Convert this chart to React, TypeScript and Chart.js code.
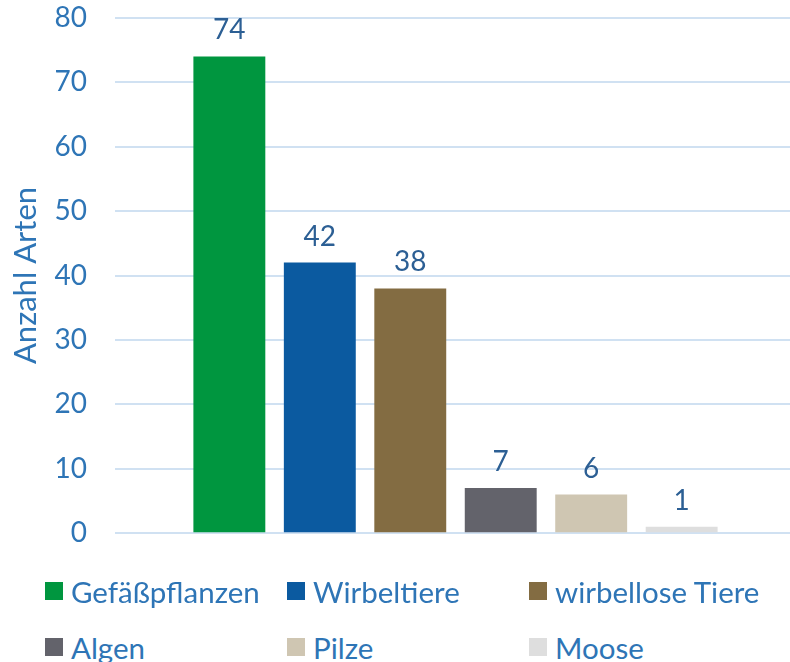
import React, { useEffect, useRef } from "react";
import { Chart, registerables } from "chart.js";

Chart.register(...registerables);

const categories = ["Gefäßpflanzen", "Wirbeltiere", "wirbellose Tiere", "Algen", "Pilze", "Moose"];
const counts = [74, 42, 38, 7, 6, 1];
const colors = ["#00963F", "#0B5AA0", "#836C42", "#63636B", "#CFC6B2", "#DEDEDE"];
const yTicks = [0, 10, 20, 30, 40, 50, 60, 70, 80];
const axisTitle = "Anzahl Arten";

const FONT = "Lato, 'Open Sans', sans-serif";
const TICK_COLOR = "#2E75B6";
const LABEL_COLOR = "#2C5F94";

const valueLabels = {
  id: "valueLabels",
  afterDatasetsDraw(chart: any) {
    const ctx = chart.ctx;
    ctx.save();
    ctx.font = `28px ${FONT}`;
    ctx.fillStyle = LABEL_COLOR;
    ctx.textAlign = "center";
    ctx.textBaseline = "bottom";
    chart.data.datasets.forEach((ds: any, i: number) => {
      const meta = chart.getDatasetMeta(i);
      meta.data.forEach((bar: any, j: number) => {
        ctx.fillText(String(ds.data[j]), bar.x, bar.y - 12);
      });
    });
    ctx.restore();
  },
};

export default function App() {
  const canvasRef = useRef<HTMLCanvasElement | null>(null);

  useEffect(() => {
    document.body.style.margin = "0";
    const chart = new Chart(canvasRef.current!, {
      type: "bar",
      data: {
        labels: [""],
        datasets: categories.map((c, i) => ({
          label: c,
          data: [counts[i]],
          backgroundColor: colors[i],
          borderWidth: 0,
        })),
      },
      options: {
        animation: false,
        responsive: false,
        maintainAspectRatio: false,
        layout: { padding: { top: 17, bottom: 27, left: 0, right: 0 } },
        datasets: {
          bar: { categoryPercentage: 0.797, barPercentage: 0.795 },
        },
        plugins: {
          legend: { display: false },
          tooltip: { enabled: false },
        },
        scales: {
          x: { display: false },
          y: {
            min: 0,
            max: 80,
            afterBuildTicks: (scale: any) => {
              scale.ticks = yTicks.map((v) => ({ value: v }));
            },
            afterFit: (scale: any) => {
              scale.width = 115;
            },
            border: { display: false },
            grid: { color: "#D0E1F2", lineWidth: 2, drawTicks: false },
            ticks: {
              color: TICK_COLOR,
              font: { family: FONT, size: 28 },
              padding: 28,
            },
            title: {
              display: true,
              text: axisTitle,
              color: TICK_COLOR,
              font: { family: FONT, size: 31 },
              padding: { top: 7, bottom: 0 },
            },
          },
        },
      },
      plugins: [valueLabels],
    });
    return () => chart.destroy();
  }, []);

  const colLeft = [45, 287, 529];
  const rowTop = [577, 633];

  return (
    <div style={{ position: "relative", width: 790, height: 662, overflow: "hidden", background: "#fff" }}>
      <canvas ref={canvasRef} width={796} height={605} style={{ position: "absolute", left: 0, top: -27 }} />
      {categories.map((c, i) => (
        <div
          key={c}
          style={{
            position: "absolute",
            left: colLeft[i % 3],
            top: rowTop[Math.floor(i / 3)],
            height: 28,
            display: "flex",
            alignItems: "center",
            fontFamily: FONT,
            fontSize: 29.5,
            color: TICK_COLOR,
            whiteSpace: "nowrap",
          }}
        >
          <span style={{ display: "inline-block", width: 18, height: 18, background: colors[i], marginRight: 8 }} />
          <span>{c}</span>
        </div>
      ))}
    </div>
  );
}
